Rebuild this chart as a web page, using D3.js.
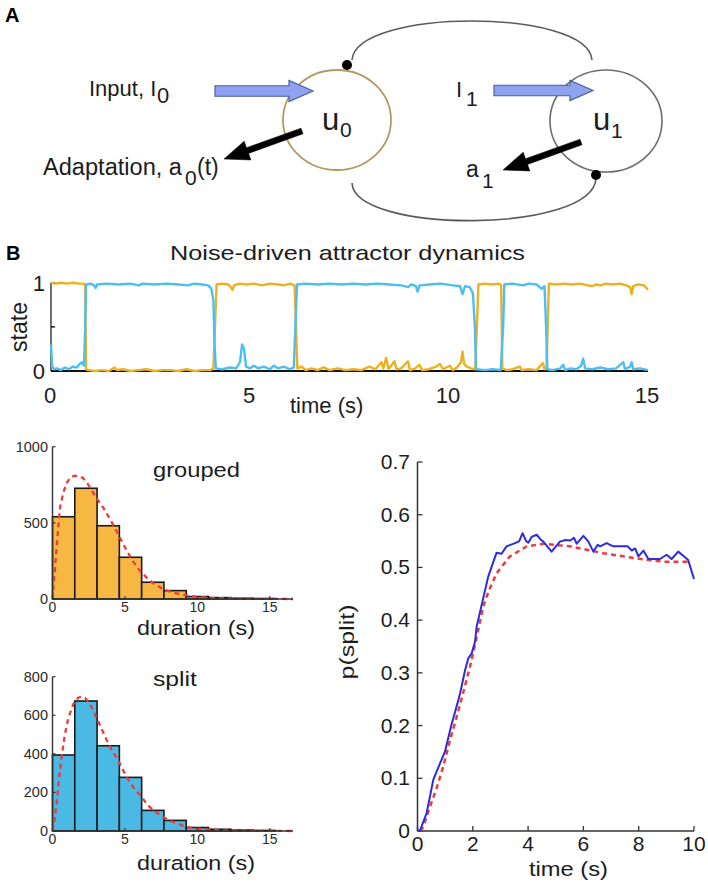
<!DOCTYPE html>
<html><head><meta charset="utf-8">
<script src="https://cdn.jsdelivr.net/npm/d3@7"></script>
<style>body{margin:0;background:#fff}svg{display:block}text{font-family:"Liberation Sans",Arial,Helvetica,sans-serif}</style>
</head><body><svg id="fig" width="708" height="882"></svg>
<script>
// ---------------- DATA ----------------
const stateTicks = [0, 0.5, 1];
const stateTickLabels = ["0", "", "1"];
const timeTicks = [0, 5, 10, 15];
const u0Trace = [[0,1],[0.1,0.99],[0.25,1],[0.4,0.99],[0.55,1],[0.7,0.99],[0.82,0.99],[0.86,0.96],[0.88,0.02],[0.95,0.01],[1.1,0],[1.3,0.01],[1.45,0],[1.6,0.04],[1.65,0.01],[1.8,0.02],[2.0,0],[2.2,0.01],[2.4,0.02],[2.6,0],[2.8,0.01],[3.0,0.01],[3.2,0],[3.4,0.02],[3.6,0],[3.8,0.01],[4.0,0.01],[4.08,0.03],[4.12,0.5],[4.16,0.98],[4.3,0.99],[4.45,0.98],[4.52,0.95],[4.56,0.92],[4.6,0.97],[4.75,0.99],[4.9,0.98],[5.1,0.99],[5.3,0.97],[5.5,0.99],[5.7,0.98],[5.85,0.97],[6.0,0.99],[6.12,0.97],[6.15,0.6],[6.19,0.03],[6.3,0.05],[6.4,0.01],[6.55,0.03],[6.7,0.01],[6.85,0.04],[7.0,0.01],[7.2,0.03],[7.4,0.01],[7.6,0.02],[7.8,0.01],[8.0,0.05],[8.15,0.02],[8.3,0.1],[8.35,0.03],[8.42,0.15],[8.48,0.02],[8.63,0.11],[8.68,0.02],[8.8,0.03],[8.97,0.11],[9.02,0.01],[9.15,0.03],[9.26,0.07],[9.32,0.01],[9.5,0.02],[9.68,0.05],[9.77,0.08],[9.85,0.02],[10.02,0.06],[10.1,0.01],[10.2,0.04],[10.3,0.1],[10.34,0.22],[10.38,0.08],[10.45,0.05],[10.55,0.03],[10.66,0.02],[10.7,0.5],[10.74,0.98],[10.9,0.99],[11.1,0.98],[11.25,0.99],[11.31,0.97],[11.34,0.03],[11.45,0.01],[11.6,0.02],[11.78,0.05],[11.82,0.01],[12.0,0.02],[12.2,0.01],[12.36,0.09],[12.4,0.02],[12.45,0.03],[12.48,0.5],[12.51,0.99],[12.7,0.98],[12.9,0.99],[13.1,0.98],[13.3,0.99],[13.5,0.97],[13.6,0.96],[13.7,0.98],[13.8,0.97],[13.95,0.99],[14.1,0.98],[14.3,0.99],[14.45,0.97],[14.55,0.95],[14.59,0.87],[14.63,0.96],[14.75,0.98],[14.9,0.97],[15.0,0.92]];
const u1Trace = [[0,0.3],[0.03,0.05],[0.08,0.02],[0.15,0.03],[0.25,0.01],[0.35,0.04],[0.45,0.02],[0.55,0.05],[0.65,0.04],[0.72,0.08],[0.78,0.1],[0.83,0.06],[0.86,0.5],[0.88,0.98],[1.0,0.99],[1.08,0.97],[1.12,0.94],[1.16,0.98],[1.4,0.99],[1.7,0.98],[2.0,0.99],[2.2,0.97],[2.3,0.99],[2.6,0.98],[2.9,0.99],[3.2,0.98],[3.43,0.97],[3.6,0.99],[3.8,0.98],[3.95,0.97],[4.03,0.93],[4.08,0.8],[4.11,0.3],[4.14,0.03],[4.3,0.02],[4.5,0.04],[4.65,0.03],[4.75,0.1],[4.8,0.3],[4.85,0.25],[4.9,0.05],[5.0,0.03],[5.1,0.06],[5.2,0.03],[5.35,0.05],[5.5,0.02],[5.6,0.06],[5.7,0.03],[5.85,0.05],[6.0,0.02],[6.1,0.04],[6.14,0.5],[6.18,0.98],[6.4,0.99],[6.7,0.98],[7.0,0.99],[7.3,0.98],[7.6,0.99],[7.9,0.98],[8.2,0.99],[8.5,0.98],[8.8,0.97],[8.98,0.95],[9.05,0.98],[9.17,0.96],[9.21,0.9],[9.26,0.97],[9.5,0.98],[9.8,0.99],[10.1,0.97],[10.28,0.96],[10.34,0.87],[10.4,0.96],[10.52,0.95],[10.6,0.88],[10.65,0.5],[10.68,0.02],[10.9,0.01],[11.1,0.02],[11.3,0.01],[11.36,0.5],[11.39,0.98],[11.6,0.99],[11.86,0.97],[12.0,0.99],[12.2,0.98],[12.33,0.93],[12.4,0.96],[12.44,0.5],[12.47,0.02],[12.6,0.01],[12.8,0.03],[12.87,0.07],[12.92,0.01],[13.05,0.03],[13.2,0.02],[13.32,0.06],[13.37,0.14],[13.42,0.03],[13.6,0.02],[13.8,0.04],[14.0,0.02],[14.2,0.03],[14.38,0.1],[14.42,0.02],[14.55,0.05],[14.59,0.1],[14.63,0.02],[14.8,0.03],[15.0,0.01]];

const binEdges = [0,1.538,3.077,4.615,6.154,7.692,9.231,10.769,12.308,13.846,15.385];
const groupedCounts = [540,727,481,274,110,55,16,9,5,3];
const splitCounts = [394,674,442,278,107,55,18,9,5,3];
const histTicksX = [0,5,10,15];
const groupedTicksY = [0,500,1000];
const splitTicksY = [0,200,400,600,800];
const groupedFit = [[0,0],[0.17,200],[0.35,420],[0.52,600],[0.75,700],[1,765],[1.25,800],[1.55,810],[1.8,805],[2.1,795],[2.4,760],[2.7,715],[3,668],[3.5,600],[4,520],[4.5,430],[5,340],[5.5,255],[6,190],[6.5,140],[7,100],[7.5,72],[8,52],[8.5,38],[9,28],[9.5,20],[10,14],[11,8],[12,4],[13,2],[14,1],[16.6,0]];
const splitFit = [[0,0],[0.15,60],[0.29,145],[0.45,270],[0.63,385],[0.85,500],[1.09,585],[1.44,658],[1.75,690],[2.01,697],[2.25,690],[2.47,671],[2.75,635],[3.05,585],[3.4,528],[3.74,472],[4.15,412],[4.59,359],[5.1,281],[5.6,225],[6.15,178],[6.5,140],[6.93,109],[7.6,74],[8.2,50],[9.2,22],[10,12],[11,6],[12,3],[13.5,1],[16.6,0]];

const pTicksY = [0,0.1,0.2,0.3,0.4,0.5,0.6,0.7];
const pTicksX = [0,2,4,6,8,10];
const pSplitObserved = [[0,0],[0.1,0.002],[0.33,0.034],[0.45,0.065],[0.57,0.097],[0.81,0.128],[0.99,0.15],[1.11,0.176],[1.24,0.204],[1.36,0.226],[1.54,0.261],[1.72,0.305],[1.84,0.328],[1.96,0.337],[2.08,0.359],[2.14,0.388],[2.56,0.483],[2.86,0.528],[3.04,0.526],[3.22,0.54],[3.53,0.546],[3.68,0.55],[3.8,0.565],[3.93,0.55],[4.01,0.547],[4.13,0.558],[4.31,0.562],[4.45,0.553],[4.55,0.549],[4.85,0.53],[5.15,0.549],[5.35,0.552],[5.52,0.551],[5.66,0.556],[5.76,0.545],[6.0,0.56],[6.18,0.549],[6.36,0.53],[6.52,0.543],[6.6,0.54],[6.84,0.546],[7.08,0.54],[7.44,0.54],[7.6,0.54],[7.75,0.532],[7.87,0.536],[7.99,0.521],[8.17,0.532],[8.35,0.516],[8.77,0.516],[9.01,0.524],[9.19,0.516],[9.43,0.53],[9.61,0.522],[9.79,0.514],[9.86,0.502],[10,0.478]];
const pSplitModel = [[0.1,0],[0.21,0.008],[0.45,0.046],[0.69,0.081],[0.93,0.122],[1.18,0.173],[1.42,0.217],[1.66,0.264],[1.9,0.312],[2.14,0.368],[2.38,0.426],[2.56,0.453],[2.86,0.489],[3.34,0.521],[3.95,0.54],[4.55,0.545],[5.52,0.54],[6.72,0.527],[7.93,0.517],[8.89,0.511],[9.9,0.511]];

// ---------------- DRAW ----------------
const svg = d3.select("#fig");
const INK = "#1c1c1c";

function addText(x, y, str, size, o = {}) {
  const t = svg.append("text").attr("x", x).attr("y", y).attr("font-size", size)
    .attr("text-anchor", o.anchor || "start").attr("fill", o.fill || INK)
    .attr("font-weight", o.weight || "normal").text(str);
  if (o.len) t.attr("textLength", o.len).attr("lengthAdjust", "spacingAndGlyphs");
  if (o.rotate) t.attr("transform", `rotate(${o.rotate},${x},${y})`);
  return t;
}
function blockArrow(x1, y1, x2, y2, sw, hl, hw, fill, stroke, swidth) {
  const dx = x2 - x1, dy = y2 - y1, L = Math.hypot(dx, dy);
  const ux = dx / L, uy = dy / L, nx = -uy, ny = ux;
  const bx = x2 - ux * hl, by = y2 - uy * hl;
  const pts = [[x1 + nx*sw/2, y1 + ny*sw/2],[bx + nx*sw/2, by + ny*sw/2],[bx + nx*hw, by + ny*hw],[x2, y2],
               [bx - nx*hw, by - ny*hw],[bx - nx*sw/2, by - ny*sw/2],[x1 - nx*sw/2, y1 - ny*sw/2]];
  svg.append("polygon").attr("points", pts.map(p => p.join(",")).join(" "))
    .attr("fill", fill).attr("stroke", stroke).attr("stroke-width", swidth).attr("stroke-linejoin", "miter");
}

// ===== Panel A: schematic =====
addText(5, 22, "A", 20, {weight: "bold", fill: "#000"});
svg.append("path").attr("d", "M352,60 C356,8 588,8 592,60").attr("fill", "none").attr("stroke", "#5a5a5a").attr("stroke-width", 1.6);
svg.append("path").attr("d", "M352,183 C354,234 594,234 596,178").attr("fill", "none").attr("stroke", "#5a5a5a").attr("stroke-width", 1.6);
svg.append("ellipse").attr("cx", 337).attr("cy", 120).attr("rx", 54).attr("ry", 50)
  .attr("fill", "none").attr("stroke", "#b49a62").attr("stroke-width", 1.8);
svg.append("ellipse").attr("cx", 606).attr("cy", 121).attr("rx", 56).attr("ry", 51)
  .attr("fill", "none").attr("stroke", "#6e6e6e").attr("stroke-width", 1.6);
svg.append("circle").attr("cx", 347).attr("cy", 65).attr("r", 5).attr("fill", "#000");
svg.append("circle").attr("cx", 596).attr("cy", 175).attr("r", 5).attr("fill", "#000");
blockArrow(215, 91, 313, 91, 10.5, 24, 10.5, "#8fa2f2", "#4d5e9e", 1.2);
blockArrow(494, 90.5, 593, 90.5, 10.5, 23, 10, "#8fa2f2", "#4d5e9e", 1.2);
blockArrow(302, 131, 224, 159, 6, 25, 10, "#000", "#000", 0.5);
blockArrow(581, 142, 503, 170, 6, 25, 10, "#000", "#000", 0.5);
addText(89, 96, "Input, I", 22);
addText(157, 103, "0", 22);
addText(43, 175, "Adaptation, a", 23, {len: 139});
addText(185, 185, "0", 21);
addText(197, 175, "(t)", 23);
addText(322, 130, "u", 31);
addText(340, 137, "0", 21);
addText(593, 130, "u", 31);
addText(611, 138, "1", 21);
addText(456, 97, "I", 22);
addText(466, 106, "1", 21);
addText(466, 177, "a", 23);
addText(482, 188, "1", 21);

// ===== Panel B: time series =====
addText(6, 260, "B", 20, {weight: "bold", fill: "#000"});
addText(347.5, 260, "Noise-driven attractor dynamics", 21, {anchor: "middle", len: 355});
const tx = d3.scaleLinear().domain([0, 15]).range([51, 648]);
const ty = d3.scaleLinear().domain([0, 1]).range([371, 282.7]);
svg.append("line").attr("x1", tx(0)).attr("x2", tx(0)).attr("y1", ty(0)).attr("y2", ty(1)).attr("stroke", "#333").attr("stroke-width", 1.4);
svg.append("line").attr("x1", tx(0)).attr("x2", tx(15)).attr("y1", ty(0)).attr("y2", ty(0)).attr("stroke", "#111").attr("stroke-width", 1.8);
svg.selectAll(".sty").data(stateTicks).enter().append("line")
  .attr("x1", tx(0)).attr("x2", tx(0) + 4).attr("y1", d => ty(d)).attr("y2", d => ty(d)).attr("stroke", "#111").attr("stroke-width", 1.4);
const tsLine = d3.line().x(d => tx(d[0])).y(d => ty(d[1]));
svg.append("path").datum(u0Trace).attr("d", tsLine).attr("fill", "none").attr("stroke", "#edb120").attr("stroke-width", 2.4).attr("stroke-linejoin", "round");
svg.append("path").datum(u1Trace).attr("d", tsLine).attr("fill", "none").attr("stroke", "#4dbeee").attr("stroke-width", 2.4).attr("stroke-linejoin", "round");
stateTicks.forEach((d, i) => { if (stateTickLabels[i]) addText(45, ty(d) + 8, stateTickLabels[i], 22, {anchor: "end"}); });
timeTicks.forEach(d => addText(tx(d) - 1, 403, String(d), 22, {anchor: "middle"}));
addText(27, 327, "state", 23, {anchor: "middle", rotate: -90});
addText(290, 413, "time (s)", 22);

// ===== Histograms =====
function histogram(y0, y1, yMax, counts, fit, yTicks, fill, title, titleY, titleLen, xlabY) {
  const hx = d3.scaleLinear().domain([0, 16.6]).range([52.5, 293]);
  const hy = d3.scaleLinear().domain([0, yMax]).range([y0, y1]);
  const bins = counts.map((c, i) => ({x0: binEdges[i], x1: binEdges[i + 1], c}));
  svg.append("g").selectAll("rect").data(bins).enter().append("rect")
    .attr("x", d => hx(d.x0)).attr("width", d => hx(d.x1) - hx(d.x0))
    .attr("y", d => hy(d.c)).attr("height", d => hy(0) - hy(d.c))
    .attr("fill", fill).attr("stroke", "#1a1a1a").attr("stroke-width", 1.6);
  svg.append("path").datum(fit).attr("d", d3.line().x(d => hx(d[0])).y(d => hy(d[1])))
    .attr("fill", "none").attr("stroke", "#f03a3a").attr("stroke-width", 2.3).attr("stroke-dasharray", "5,4");
  svg.append("line").attr("x1", hx(0)).attr("x2", hx(0)).attr("y1", hy(0)).attr("y2", hy(yMax)).attr("stroke", "#333").attr("stroke-width", 1.4);
  svg.append("line").attr("x1", hx(0)).attr("x2", hx(16.6)).attr("y1", hy(0)).attr("y2", hy(0)).attr("stroke", "#333").attr("stroke-width", 1.4);
  yTicks.forEach(t => {
    svg.append("line").attr("x1", hx(0)).attr("x2", hx(0) + 3).attr("y1", hy(t)).attr("y2", hy(t)).attr("stroke", "#333").attr("stroke-width", 1.2);
    addText(48, hy(t) + 5, String(t), 14.5, {anchor: "end", fill: "#2a2a2a"});
  });
  histTicksX.forEach(t => {
    svg.append("line").attr("x1", hx(t)).attr("x2", hx(t)).attr("y1", hy(0)).attr("y2", hy(0) - 3).attr("stroke", "#333").attr("stroke-width", 1.2);
    addText(hx(t), hy(0) + 13, String(t), 14, {anchor: "middle", fill: "#2a2a2a"});
  });
  addText(153, titleY, title, 21, {len: titleLen});
  addText(196, xlabY, "duration (s)", 20.5, {anchor: "middle", len: 118});
}
histogram(599, 446.7, 1000, groupedCounts, groupedFit, groupedTicksY, "#f6b843", "grouped", 477, 87, 635);
histogram(831, 676.7, 800, splitCounts, splitFit, splitTicksY, "#4ab9e4", "split", 686, 44, 870);

// ===== p(split) =====
const px = d3.scaleLinear().domain([0, 10]).range([417.5, 694]);
const py = d3.scaleLinear().domain([0, 0.7]).range([831, 462]);
svg.append("line").attr("x1", px(0)).attr("x2", px(0)).attr("y1", py(0)).attr("y2", py(0.7)).attr("stroke", "#333").attr("stroke-width", 1.5);
svg.append("line").attr("x1", px(0)).attr("x2", px(10)).attr("y1", py(0)).attr("y2", py(0)).attr("stroke", "#333").attr("stroke-width", 1.5);
pTicksY.forEach(t => {
  svg.append("line").attr("x1", px(0)).attr("x2", px(0) + 5).attr("y1", py(t)).attr("y2", py(t)).attr("stroke", "#333").attr("stroke-width", 1.3);
  addText(410, py(t) + 7, t === 0 ? "0" : t.toFixed(1), 21, {anchor: "end"});
});
pTicksX.forEach(t => {
  svg.append("line").attr("x1", px(t)).attr("x2", px(t)).attr("y1", py(0)).attr("y2", py(0) - 5).attr("stroke", "#333").attr("stroke-width", 1.3);
  addText(px(t), 851, String(t), 21, {anchor: "middle"});
});
const pl = d3.line().x(d => px(d[0])).y(d => py(d[1]));
svg.append("path").datum(pSplitModel).attr("d", pl).attr("fill", "none").attr("stroke", "#f03a3a").attr("stroke-width", 2.5).attr("stroke-dasharray", "5,4");
svg.append("path").datum(pSplitObserved).attr("d", pl).attr("fill", "none").attr("stroke", "#2b2be0").attr("stroke-width", 2).attr("stroke-linejoin", "round");
addText(568.5, 876, "time (s)", 20.5, {anchor: "middle", len: 79});
addText(354, 642, "p(split)", 21, {anchor: "middle", rotate: -90, len: 75});
</script></body></html>
